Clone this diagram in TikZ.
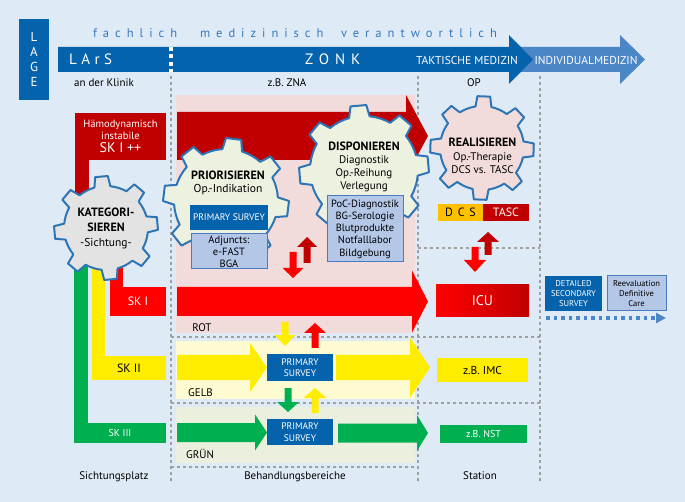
\documentclass[tikz,border=0pt]{standalone}
\usepackage{fontspec}
\setmainfont{PT Sans}
\usetikzlibrary{arrows.meta}
\definecolor{bgc}{HTML}{DEEBF7}
\definecolor{dblue}{HTML}{0563AD}
\definecolor{lblue}{HTML}{4B86C6}
\definecolor{txtblue}{HTML}{3479BD}
\definecolor{pinkband}{HTML}{F2DCDB}
\definecolor{dred}{HTML}{C00000}
\definecolor{bred}{HTML}{FF0000}
\definecolor{yel}{HTML}{FFED00}
\definecolor{yelband}{HTML}{FEFBD2}
\definecolor{grn}{HTML}{00B050}
\definecolor{grnband}{HTML}{EBF0DE}
\definecolor{gearfill}{HTML}{EDF1DF}
\definecolor{geargray}{HTML}{E3E3E3}
\definecolor{gearblue}{HTML}{2E75B6}
\definecolor{lav}{HTML}{B4C7E7}
\definecolor{lavline}{HTML}{4A7CC4}
\definecolor{orng}{HTML}{FFC000}
\definecolor{dashgray}{HTML}{A0A0A0}
\newcommand\fs[2]{\fontsize{#1}{#2}\selectfont}
\newcommand\harrow[7]{\fill[#1] (#2,{#5-#6}) -- (#3,{#5-#6}) -- (#3,{#5-#7}) -- (#4,#5) -- (#3,{#5+#7}) -- (#3,{#5+#6}) -- (#2,{#5+#6}) -- cycle;}
\newcommand\varrow[7]{\fill[#1] ({#2-#6},#3) -- ({#2-#6},#4) -- ({#2-#7},#4) -- (#2,#5) -- ({#2+#7},#4) -- ({#2+#6},#4) -- ({#2+#6},#3) -- cycle;}
\newcommand\drawgear[6]{%
\begin{scope}[shift={(#1,#2)}]
\draw[gearedge, fill=#6] ({#5-11}:#3) \foreach \k in {0,...,7}{ -- ({#5+45*\k-7}:#4) -- ({#5+45*\k+7}:#4) -- ({#5+45*\k+11}:#3) arc[start angle={#5+45*\k+11}, end angle={#5+45*\k+34}, radius=#3] } -- cycle;
\end{scope}}
\tikzset{
 guide/.style={dashgray, line width=1.6pt, dash pattern=on 3pt off 3pt},
 gearedge/.style={draw=gearblue, line width=2pt, line join=round},
 rbox/.style={rectangle, inner sep=0pt, outer sep=0pt, align=center},
 bluebox/.style={rbox, fill=dblue, text=white},
 lavbox/.style={rbox, fill=lav, draw=lavline, line width=1pt},
 lbl/.style={inner sep=0pt, outer sep=0pt, align=center},
 spacedblue/.style={lbl, anchor=base west, text=txtblue, font=\fs{12.5}{12.5}\addfontfeatures{LetterSpace=48}},
}
\begin{document}
\begin{tikzpicture}[x=1pt,y=-1pt]
\useasboundingbox (0,0) rectangle (685,502);
\fill[bgc] (0,0) rectangle (685,502);
% guides
\draw[guide] (171,76) -- (171,482);
\draw[guide] (418,76) -- (418,482);
\draw[guide] (540,76) -- (540,482);
\draw[guide] (171,337) -- (540,337);
\draw[guide] (171,403) -- (540,403);
\draw[guide] (171,467) -- (418,467);
\draw[guide] (418,248) -- (540,248);
% bands
\fill[pinkband] (176,95) rectangle (415,333);
\fill[yelband] (176,341) rectangle (415,399);
\fill[grnband] (176,407) rectangle (415,463);
% top bar
\fill[lblue] (515,47) -- (620,47) -- (620,35) -- (645,59.5) -- (620,84) -- (620,72) -- (515,72) -- cycle;
\fill[dblue] (58,47) -- (509,47) -- (509,35) -- (533,59.5) -- (509,84) -- (509,72) -- (58,72) -- cycle;
\draw[white, line width=3.5pt, dash pattern=on 4pt off 3.5pt] (171,47) -- (171,72);
\node[rbox, fill=dblue, text=white, minimum width=30, minimum height=81, font=\fs{13}{15}] (lage) at (34,59.5) {L\\A\\G\\E};
\node[spacedblue] (w1) at (93,38) {fachlich};
\node[spacedblue] (w2) at (200,38) {medizinisch};
\node[spacedblue] (w3) at (341,38) {verantwortlich};
\node[lbl, anchor=base west, text=white, font=\fs{15}{15}\addfontfeatures{LetterSpace=30}] (lars) at (69,65) {LArS};
\node[lbl, anchor=base west, text=white, font=\fs{15}{15}\addfontfeatures{LetterSpace=40}] (zonk) at (305,65) {ZONK};
\node[lbl, anchor=base, text=white, font=\fs{11.5}{12}] (takt) at (467,65) {TAKTISCHE MEDIZIN};
\node[lbl, anchor=base, text=white, font=\fs{11.5}{12}] (indiv) at (586,65) {INDIVIDUALMEDIZIN};
\node[lbl, anchor=base, font=\fs{11}{12}] (klinik) at (104,87) {an der Klinik};
\node[lbl, anchor=base, font=\fs{11}{12}] (zna) at (287,87) {z.B. ZNA};
\node[lbl, anchor=base, font=\fs{11}{12}] (op) at (474,87) {OP};
% big arrows
\harrow{dred}{177}{406}{428}{136}{24}{41}
\harrow{bred}{177}{412}{428}{301.5}{14.5}{31}
\harrow{yel}{177}{250}{267}{367.5}{12.5}{24.5}
\harrow{yel}{336}{410}{430}{367.5}{12.5}{30}
\harrow{grn}{177}{255}{267}{432.5}{9.5}{18}
\harrow{grn}{338}{417}{428}{433}{9.5}{18}
% small arrows
\varrow{yel}{285}{322}{335}{346}{3.5}{10.5}
\varrow{bred}{315}{348}{333}{323}{3.5}{11}
\varrow{grn}{288}{388}{402}{412}{3.5}{11}
\varrow{yel}{315}{413}{398}{388}{3.5}{11.5}
\varrow{dred}{307}{263}{247}{237}{3.5}{10}
\varrow{bred}{293}{252}{268}{278}{3.5}{10.5}
\varrow{dred}{488}{255}{242}{232}{3.5}{11}
\varrow{bred}{475}{247}{260}{272}{3.5}{11}
% triage strips
\fill[dred] (75,158) rectangle (89,200);
\fill[bred] (110,250) rectangle (123,288);
\fill[yel] (92,255) rectangle (105,357);
\fill[grn] (74,255) rectangle (88,424);
\node[rbox, fill=dred, text=white, minimum width=91, minimum height=47, font=\fs{10.5}{12}] (skpp) at (120.5,136.5) {Hämodynamisch\\instabile\\[1pt]{\fs{14}{14}SK I ++}};
\node[rbox, fill=bred, text=white, minimum width=56, minimum height=29, font=\fs{12}{12}] (sk1) at (138,301.5) {SK I};
\node[rbox, fill=yel, minimum width=74, minimum height=24, font=\fs{12}{12}] (sk2) at (129,368) {SK II};
\node[rbox, fill=grn, text=white, minimum width=92, minimum height=20, font=\fs{10}{10}] (sk3) at (120,433) {SK III};
% gears
\drawgear{106}{228}{42}{52}{-95}{geargray}
\drawgear{226}{201}{52}{63}{-83}{gearfill}
\drawgear{364}{170}{54}{65}{-95}{gearfill}
\drawgear{482}{148}{42}{52}{-88}{pinkband}
\node[lbl, font=\fs{12}{15}] (kat) at (106,228) {\bfseries KATEGORI-\\\bfseries SIEREN\\\fs{11.5}{15}-Sichtung-};
\node[lbl, font=\fs{11.5}{13}] (prio) at (228,182.5) {\bfseries\fs{12}{13}PRIORISIEREN\\Op.-Indikation};
\node[lbl, font=\fs{11}{13}] (disp) at (364,166.5) {\bfseries\fs{12}{13}DISPONIEREN\\Diagnostik\\Op.-Reihung\\Verlegung};
\node[lbl, font=\fs{11}{13.5}] (real) at (482.5,156) {\bfseries\fs{12}{13.5}REALISIEREN\\Op.-Therapie\\DCS vs. TASC};
% boxes
\node[bluebox, minimum width=78, minimum height=25, font=\fs{9.5}{11}] (ps1) at (229,217.5) {PRIMARY SURVEY};
\node[lavbox, minimum width=76, minimum height=35, font=\fs{10.5}{12}] (adj) at (229,251.5) {Adjuncts:\\e-FAST\\BGA};
\node[lavbox, minimum width=76, minimum height=66, font=\fs{10.5}{12.2}] (poc) at (365,229) {PoC-Diagnostik\\BG-Serologie\\Blutprodukte\\Notfalllabor\\Bildgebung};
\node[rbox, fill=orng, minimum width=45, minimum height=17, font=\fs{12}{12}\addfontfeatures{LetterSpace=40}] (dcs) at (460.5,212.5) {DCS};
\node[rbox, fill=dred, text=white, minimum width=46, minimum height=17, font=\fs{12}{12}] (tasc) at (506,212.5) {TASC};
\node[rbox, left color=bred, right color=dred, text=white, minimum width=93, minimum height=32, font=\fs{14}{14}] (icu) at (482.5,301) {ICU};
\node[rbox, fill=yel, minimum width=91, minimum height=24, font=\fs{11.5}{12}] (imc) at (482.5,370) {z.B.\ IMC};
\node[rbox, fill=grn, text=white, minimum width=87, minimum height=18, font=\fs{10}{10}] (nst) at (483.5,434) {z.B. NST};
\node[bluebox, minimum width=66, minimum height=27, font=\fs{9.5}{11.5}] (ps2) at (300,367.5) {PRIMARY\\SURVEY};
\node[bluebox, minimum width=66, minimum height=26, font=\fs{9.5}{11.5}] (ps3) at (300,432) {PRIMARY\\SURVEY};
\node[bluebox, minimum width=57, minimum height=35, font=\fs{8.5}{10}] (det) at (573.5,293.5) {DETAILED\\SECONDARY\\SURVEY};
\node[lavbox, minimum width=59, minimum height=35, font=\fs{8.5}{10}] (reev) at (636.5,293.5) {Reevaluation\\Definitive\\Care};
\coordinate (dsA) at (546,318);
\coordinate (dsB) at (666,318);
\draw[lblue, line width=4pt, dash pattern=on 3.5pt off 4pt, -{Triangle[length=10pt,width=10pt]}] (dsA) -- (dsB);
% band labels
\node[lbl, font=\fs{11}{12}] (rot) at (202,328) {ROT};
\node[lbl, font=\fs{11}{12}] (gelb) at (200.5,393) {GELB};
\node[lbl, font=\fs{11}{12}] (gruen) at (200,454) {GRÜN};
\node[lbl, anchor=base, font=\fs{11}{12}] (sicht) at (114,479) {Sichtungsplatz};
\node[lbl, anchor=base, font=\fs{11}{12}] (behand) at (295,479) {Behandlungsbereiche};
\node[lbl, anchor=base, font=\fs{11}{12}] (station) at (480,479) {Station};
\end{tikzpicture}
\end{document}
